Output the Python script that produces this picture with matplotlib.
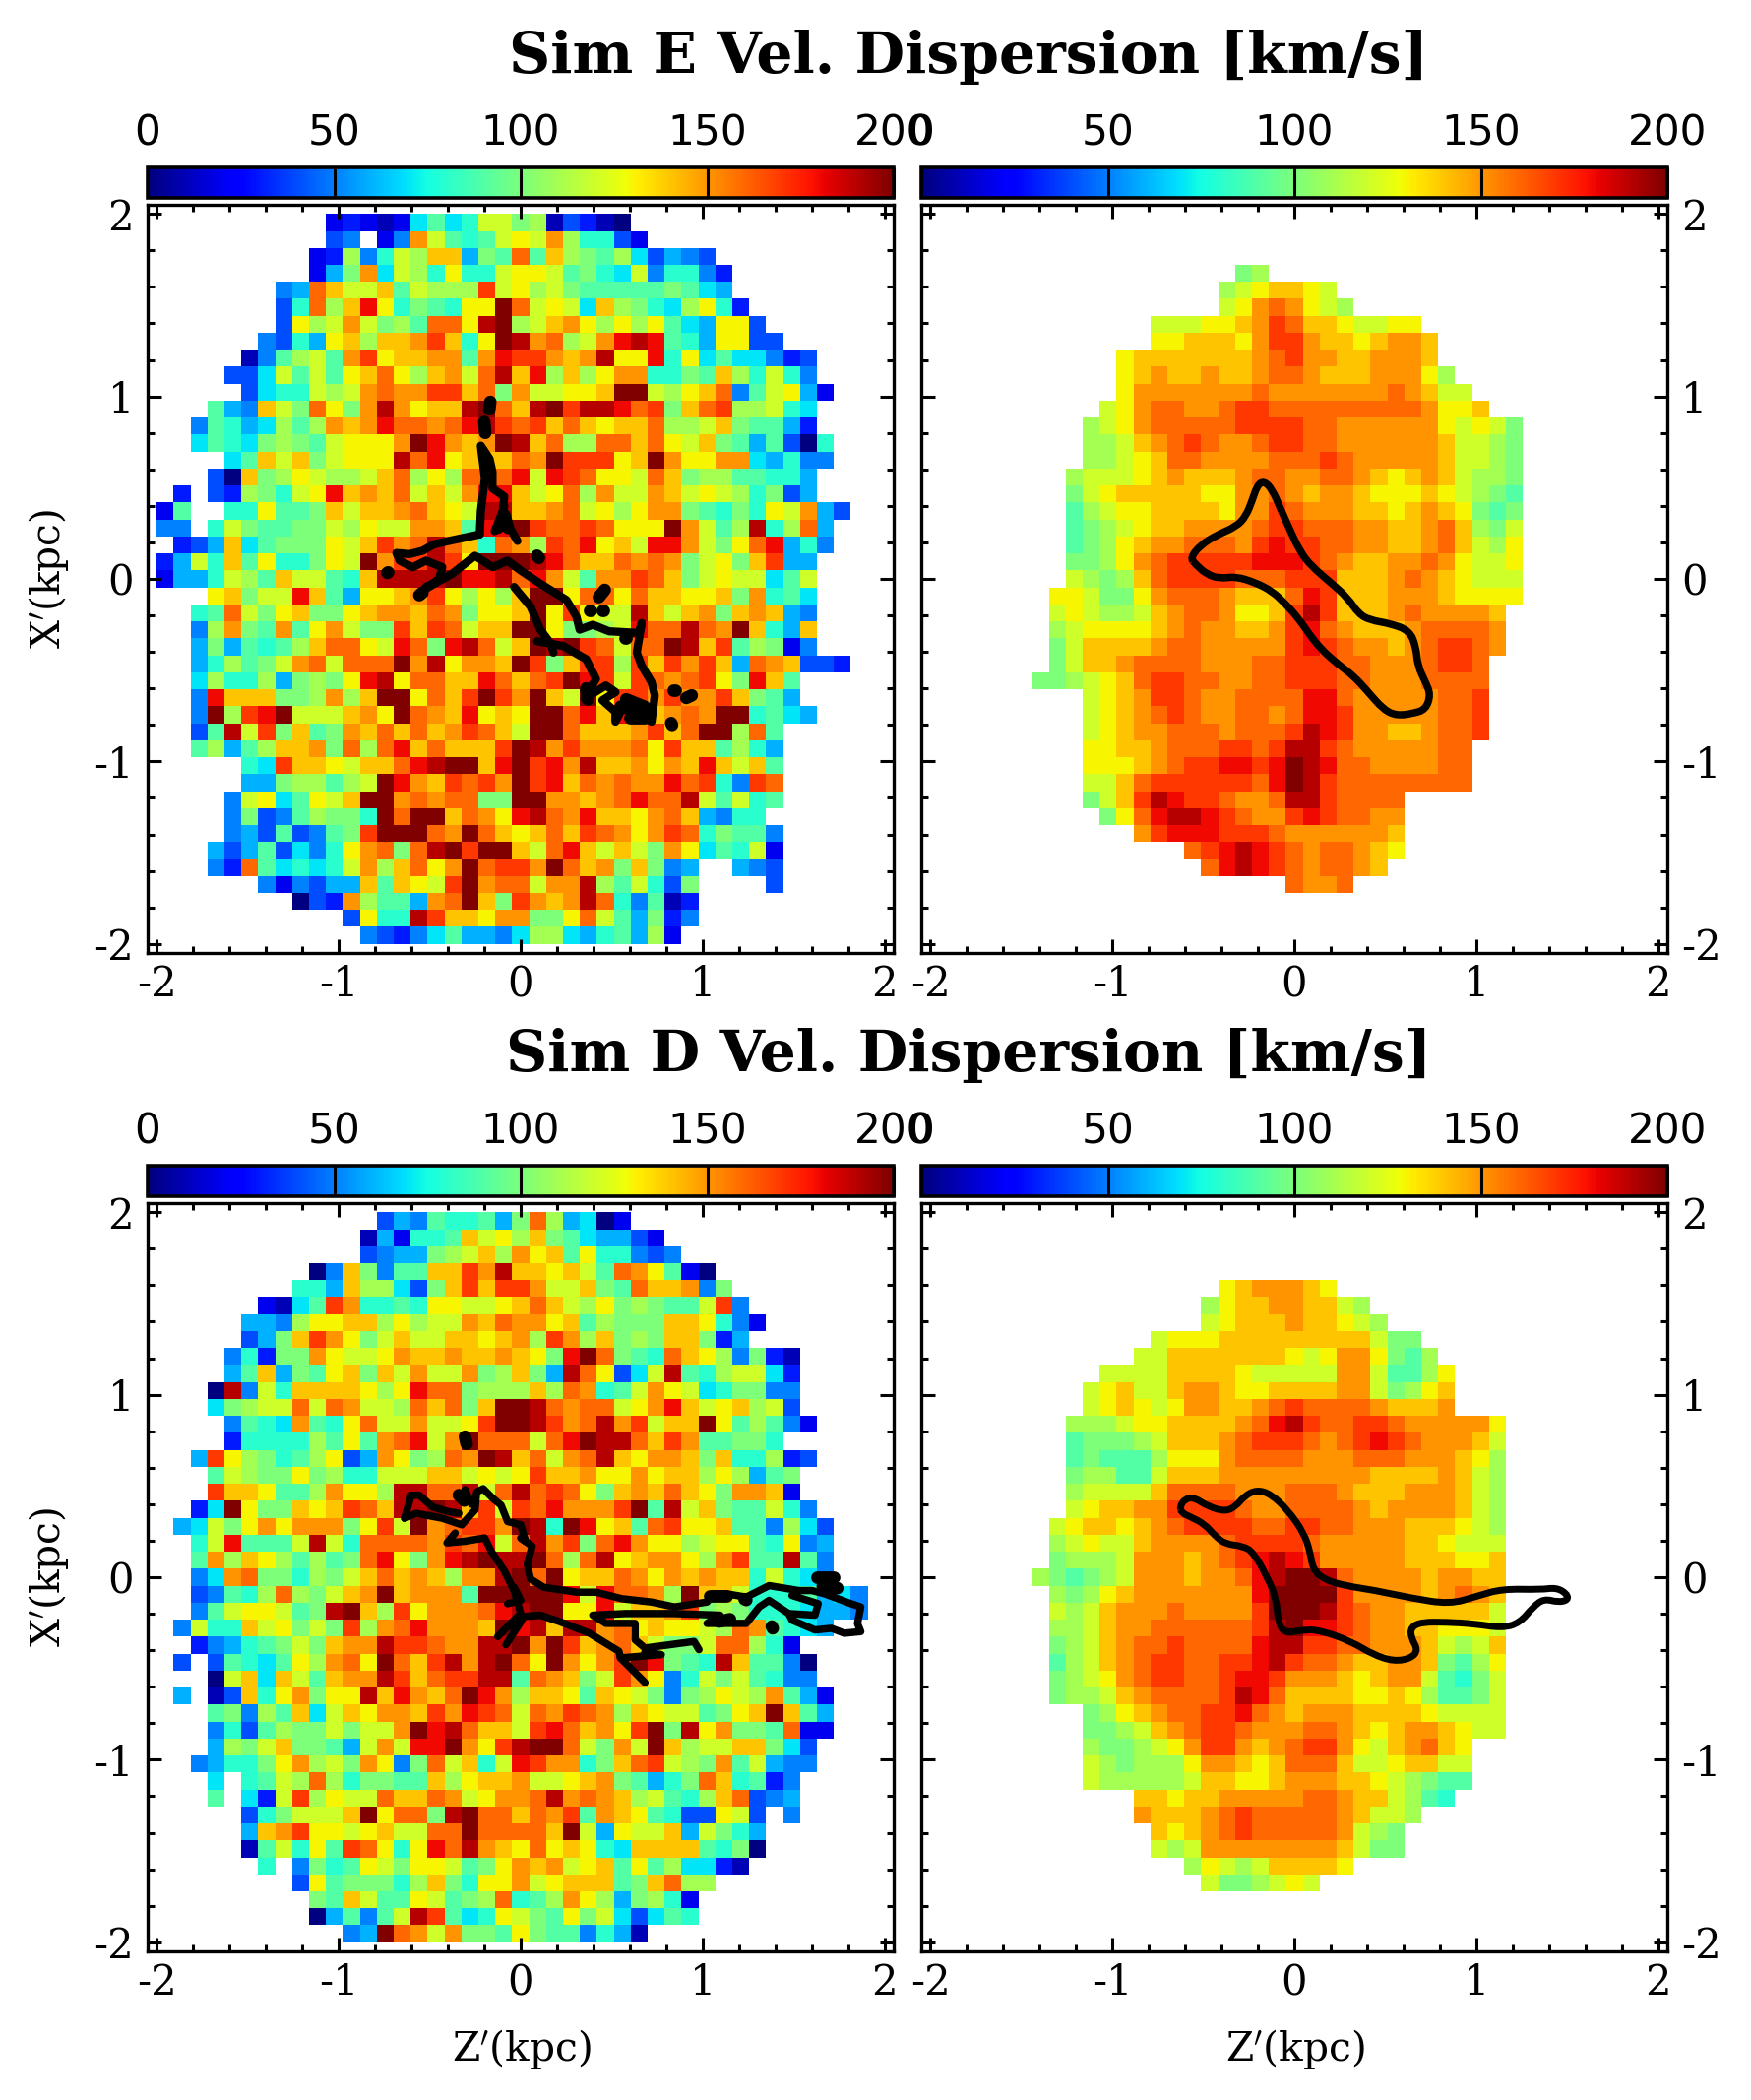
"""Velocity dispersion maps of Sim E and Sim D with the gas outlines on top."""

import numpy as np
import matplotlib
matplotlib.use("Agg")
import matplotlib.pyplot as plt
from matplotlib.patches import PathPatch
from matplotlib.path import Path
from matplotlib.ticker import MultipleLocator, FormatStrFormatter

plt.rcParams.update({
    "font.family": "DejaVu Serif",
    "mathtext.fontset": "dejavuserif",
    "axes.unicode_minus": False,
})

W, H = 1779, 2133
DPI = 200

# one character per bin: base-21 level, level * 10 = km/s, '.' = no data
E_LEFT = [
    "..........232127978ccab14310",
    "..........45.25fc989cdcfb8842",
    ".........23b58cbee6a9g9eba9b74654",
    ".........26af7cb8d88cddc9a87c58853",
    ".......56gecce9cbbbhcdbca99999a976",
    ".......48gbeid8a98ddkgcdc7eba87bd83",
    ".......4dbcfcab9ggdjkbcefdbdbd976dd4",
    "......5486debeefhe8dkjfgbcfiji986dd44",
    ".....159bc9fhdeeff9fihhfefjddi8d7977534",
    "....447c9c9degdbefcgjeibebdff88a9eb8c85",
    ".....4788cbcfgffhhegafccddekkcbdeg59cd62",
    "...965ecagdafjfdeejkgejkhjjighaeghbbc87",
    "..59867b9bfefiggfgijhghegedeegbbcea9963",
    "..7987aba9cdddfkifefkjegbbggegdcea969408",
    "....79eceacdddjgideeegfkhhhdekfddff76855",
    "...40eabdcbbcegbdbgggicihgddcgeabb99886",
    ".3.43ba8cdiefegcecfiiecdgbfccfecdcb8a46",
    "29..88d99aeceefgedcjjeefgcdbdffa98a8dcf64",
    "55.8ca99aacbdccffe9iikhgghgdddkfc9bj8bg6",
    ".346e79aaadcehfgjge8gfbhgideciifcadgi685",
    "36c8e9d88adckfhhjhdkkkjigeegfgfacdaeh66",
    "2668cb9ecc98ejjjjkiijgifc9ffhgeacdcc79c",
    "...deaccie96ddefhdbdbekkdggdgeeddeaf897",
    "..89gcadeaadeffegfaddekdhdccjecefaefe65",
    "..5bfa9f9dfcaahehgceekkdaabciggjgfke86e",
    "..6a6989beggdcigaijgcekjkhgcggkjeh9ba25",
    "..68b9acfgcgggkfjdffekhaehhbhehfhe6gfe443",
    "..7b88b6abadijdggeeigeghkihchgfghdaie9",
    "..5ieeeaabfbekkdgehkhfkeckdhhfhffhea96",
    "..5kbhikcccefdkgfeidedkkgieiiefgfkk8976",
    "..49jchae9afegegefhgeckkgeeefhegkkbg9",
    "..9b69beefagbgiegeeehkjfhfffgdhee9b86",
    ".....87heedceegijkkeikhifjeefdfeiece9",
    ".....66abb9bckifehghfkhiegfgffigh85hg",
    "....5cd79dcekkfgfggaakkffefgiggjc9c89",
    "....5a459baa8kgkkegfdijgfieedfge6588",
    "....5649459ahkkkgfkgedegehgfdfhg8a995",
    "...64694758dfgagjkhkkecgiececafd798c2",
    "...53g97878cfbegdfkghhfkgefaea56..654",
    "......525466e9edchkfggcffjb9c84a....4",
    "........043fb996fgkeahfefjg85913",
    "...........4d88jheedffaadgc96a35",
    "............5435796657bb76896b2",
]

E_RIGHT = [
    "",
    "",
    "",
    "..................ab",
    ".................bcdeedc",
    ".................cdfgfdcb",
    ".............cccddefhgeedccdd",
    ".............ddeeedfhhfeedeffe",
    "...........deeeeeeefghffeefffe",
    "...........defeefeefggfeeefffdb",
    "...........dfffffffgfffffffgfecc",
    "..........cdfggffghhgggggggggfdde",
    ".........bcdfggggghhhhggffffffdcdca",
    ".........bbcefghgffghhggffffffeccba",
    ".........bbcdeggffffggghgfffffeccba",
    "........bcccdefeeefggffggfedefecbba",
    "........acdeeeeeddffgfeffedddedcba9",
    "........9bcddeeeedffhgfffeedefeda9a",
    "........9abcdeeffffghhgggffeefgebac",
    "........9abdeffgggfhihhggffeefgecbd",
    "........aabdfghhhhhiiihgfeeffgfdccd",
    "........cbabeghhhhggghhheeefgfedccc",
    ".......ddcaadfgggfeeegiheeefffedddd",
    ".......cdcbbcefggfddehjheeefgffffe",
    ".......bcddddefgffeefhigfeeefggggf",
    ".......aceeeefggfffffhihgffefghhgf",
    ".......aceefggggfffgghhhggfffghhg",
    "......aabcdeghhggffgghhhggfffgggg",
    ".........cdefhhgffggggiigfffffggh",
    ".........cdefghgffggfgiihfffffggh",
    ".........cdeffgggfggghjihffeefggh",
    ".........ddeefggghhghjjhgfffffgg",
    ".........dddefghhiihikjiggffffgg",
    ".........cceghhhhhhgikjhgggggggg",
    ".........acehjihhgffgjjhgggg",
    "..........adgijjihgffhihggff",
    "............fhiiihhhgffffffe",
    "...............ghijihgfggfed",
    "................gijihgfggfe",
    ".....................gffg",
]

D_LEFT = [
    ".............46598896agb6702",
    "............162889ecdbea976642",
    "............4566abcebfde9d88545",
    ".........05ea599eehfjeedec9gfd920",
    "........886ebb74aehehhfccea9geef5a",
    "......2179hf8898ddccdegecbdaba99ch5",
    ".....665bddeebdbccfegffde9baaaeed852",
    ".....46aehfdacecceedefbhfbeabaeea36",
    "....583aafdccdfeefeefedaikga98gedb5a31",
    "....69e6a9deaecfccfabea6jgd47cj98bcc73",
    "...0j5c8eeeedbdiggabbbebgf89cfdc78aa55",
    "...7abccgcgfccbgegaekkjgfggcdfiecdebc4",
    "....5987f98dgccfccdhkkjhfgjfhceekd9b952",
    "....38888b9d9fgicfkgggcgikjjgehf99aa8",
    "..6hdba89bd46fdabgfkjegcfgjedffeae88b34",
    "...9cbaadab88ccceecdcdheefddfdeebdb69a",
    "...heed99bfddbjjggjcgjghgdaefegedaffe2",
    "..37kdaaedehgejjkjehchgifffhk9jcea99c85",
    ".67cadfdfffadhckfghhfkj8kide9ghdde995b74",
    "..8ci999cjc8ggggfhgicgjfhagifddbcdd98d56",
    "..9fbedb9b9agidafijkjjkgbgjdeffdbfh99j95",
    "..57fgaa8bacegefebffjkgkdeegfdfefee8c875",
    "..4598bgbacefkefff9kkkkkiciggfbkeec8889675",
    "..59cddc9ajkebhdfffgijkkddiceefhaba8887665",
    ".5c88ecdacahbfgifffekijejjfgdeddcbgf9876",
    "..35689acaeffjhhgffjjkfkhefgecaacggb82",
    ".4.49879dbfgdkgehjfjkgdkfdfhkia98je9950",
    "...0ce7ec9effjheghhjj9gfeachfd58cac9855",
    ".6.14e8dfaddjeifegkifbeed9edca5abdcbf962",
    "...9a5b9e7cedffehfihgcgfhgfbedcc9adeke96",
    "...5849baacaccfkijgeechigefdhkajdfaa9g22",
    "...6baceaa96cfciikfdhjkkgcafckebcceea74",
    "..5688adfbcafd5agce8cihff8aeghcbaf9c655",
    "...7.89cbgb8aa99ebdeefccdefa968age8935",
    "...9.73chbdccgeegfcdffgjfgfebc98beg456",
    ".....48acccekdggajkggegfh9fed9844dc4.5",
    ".....6efhddcdeccggkggggekc6dcce6ca86",
    ".....19c8d9hgd8digjfedgded87eeee98a0",
    "......8.5a89dcaddc9adfefcde9d9b7731",
    "........4d9aaa8bea8ddfcdeee9aegbb",
    ".........a9ec99dc9abg89bfdb6ab82",
    ".........06959cjh978dca9dac74798",
    "...........56kgfcfaa9da995861",
]

D_RIGHT = [
    "",
    "",
    "",
    "",
    ".................defffed",
    "................bdeeffeecb",
    "................cdeeefeedcb",
    ".............cdddeeeeeeeeecaa",
    "............cceeeeeeedcdffda9b",
    "..........cccceeeedcccccffc99bd",
    ".........cdecceffeddeeeeffcabde",
    ".........cdedcdffeefghggggfeeef",
    "........bbbcddeeeefgijhgghhgfffffd",
    "........9aaabceeefghhhgfghihgfffec",
    "........9a999bdddfggggfffgggfffedb",
    "........abb99ceeefffffffffeeeefecb",
    "........bccccegggg" "fffgggfeee" "fffecb",
    "........cdeeffhhhhgffggggfeffffecb",
    ".......cdeedefghhhhgghhggfffeeedcb",
    ".......bcdcceffffghhhhgfffffeedccc",
    ".......abbbcfffefghijihfffffeeedde",
    "......ba9abcfffeffgijkkjgffffeffee",
    ".......babdefffffffikkkkhffffefgfe",
    ".......cbcefffgffffhkkkjhgffeeeeec",
    ".......bbceffgggggghjkiihgffeedddc",
    ".......abcefgghggggijjhhggfffecbce",
    ".......9bcefghhgghhijhggfeeffea9bd",
    ".......abcdfghhgghiihfffedeffc98ac",
    ".......abbcefgggghjigeeeeddedb99ac",
    ".........abdefgghhigfefffeeeedcccc",
    ".........aabcefghhgfffggfedeffedcc",
    ".........baabcdfhhfefghhfdcefged",
    ".........cbabbbdffedegggeccdeecc",
    ".........cbbbbbceeddefffeedcba99",
    "............eedeefffffggfeecb98",
    "............feeefghgggggfeccb",
    ".............edefghgggggfcba",
    ".............cbcffffffffecaa",
    "...............bdcbceeeed",
    "................caabcdc",
]

# outlines in kpc, (x, y) pairs
E_RIGHT_LINE = [
    (-.571, .115), (-.517, .184), (-.427, .240), (-.320, .286), (-.266, .343), (-.230, .434),
    (-.203, .513), (-.167, .536), (-.122, .491), (-.077, .388), (-.032, .286), (.031, .150),
    (.094, .070), (.201, -.021), (.291, -.101), (.354, -.192), (.417, -.226), (.525, -.244),
    (.633, -.283), (.669, -.374), (.678, -.476), (.722, -.567), (.749, -.635), (.722, -.715),
    (.650, -.738), (.561, -.749), (.489, -.715), (.399, -.612), (.327, -.533), (.237, -.465),
    (.147, -.385), (.084, -.305), (.021, -.214), (-.050, -.135), (-.122, -.067), (-.212, -.021),
    (-.320, .013), (-.410, .002), (-.481, .025), (-.544, .081),
]

D_RIGHT_LINE = [
    (-.629, .388), (-.600, .429), (-.552, .438), (-.475, .388), (-.379, .360), (-.322, .388),
    (-.274, .445), (-.207, .479), (-.129, .456), (-.033, .365), (.054, .240), (.087, .137),
    (.102, .046), (.160, -.011), (.275, -.046), (.449, -.073), (.641, -.114), (.853, -.148),
    (1.007, -.103), (1.142, -.064), (1.354, -.068), (1.440, -.057), (1.498, -.091), (1.504, -.125),
    (1.450, -.137), (1.373, -.118), (1.315, -.160), (1.238, -.251), (1.142, -.278), (.988, -.255),
    (.834, -.246), (.700, -.246), (.641, -.274), (.641, -.330), (.680, -.399), (.641, -.445),
    (.545, -.461), (.429, -.422), (.314, -.353), (.160, -.296), (.064, -.285), (-.052, -.308),
    (-.087, -.251), (-.100, -.114), (-.148, 0), (-.225, .137), (-.283, .171), (-.379, .182),
    (-.437, .228), (-.494, .292), (-.571, .331), (-.620, .353),
]

E_LEFT_LINES = [
    [(-.225, .244), (-.219, .37), (-.197, .55), (-.219, .73), (-.171, .658), (-.155, .586),
     (-.155, .496), (-.09, .451), (-.099, .37), (-.143, .262), (-.072, .30), (-.018, .208)],
    [(-.09, .40), (-.12, .27)],
    [(-.225, .244), (-.395, .208), (-.476, .19), (-.539, .154), (-.611, .136), (-.683, .142),
     (-.665, .10), (-.593, .064), (-.521, .10), (-.431, .064), (-.449, 0), (-.521, -.053)],
    [(-.521, -.053), (-.377, .028), (-.251, .127), (-.153, .064), (-.072, .10), (0, .046),
     (.108, -.026), (.252, -.116), (.306, -.206), (.324, -.278), (.396, -.251), (.486, -.287),
     (.648, -.296), (.665, -.242), (.638, -.404), (.665, -.476), (.719, -.566), (.737, -.638),
     (.719, -.782), (.566, -.692), (.521, -.782), (.521, -.728), (.449, -.665), (.521, -.62),
     (.468, -.584), (.351, -.656), (.414, -.548), (.36, -.44), (.234, -.368), (.09, -.341)],
    [(-.036, -.044), (.054, -.152), (.108, -.278), (.162, -.35), (.18, -.404)],
    [(-.521, -.044), (-.449, -.008)],
]

E_LEFT_BLOBS = [
    [(-.167, .97), (-.172, .93)],
    [(-.20, .86), (-.195, .80)],
    [(-.07, .28), (-.09, .35)],
    [(-.733, .033), (-.728, .036)],
    [(-.557, -.089), (-.54, -.075)],
    [(.09, .127), (.10, .115)],
    [(.43, -.10), (.462, -.06)],
    [(.377, -.17), (.382, -.17)],
    [(.449, -.17), (.454, -.17)],
    [(.566, -.233), (.57, -.233)],
    [(.575, -.321), (.58, -.321)],
    [(.55, -.70), (.70, -.74)],
    [(.60, -.76), (.68, -.76)],
    [(.58, -.66), (.68, -.70)],
    [(.36, -.60), (.37, -.66)],
    [(.84, -.611), (.85, -.611)],
    [(.91, -.652), (.94, -.638)],
    [(.827, -.79), (.832, -.80)],
]

D_LEFT_LINES = [
    [(-.638, .323), (-.602, .449), (-.557, .449), (-.485, .386), (-.40, .36), (-.34, .35)],
    [(-.638, .323), (-.575, .35), (-.431, .323), (-.324, .287), (-.251, .368), (-.242, .467),
     (-.206, .485), (-.152, .431), (-.108, .395), (-.072, .305), (0, .287), (.027, .197),
     (0, .215), (.063, .17), (.036, .071), (.054, -.01), (.126, -.055), (.306, -.082),
     (.414, -.082), (.557, -.118), (.719, -.136), (.845, -.163), (1.024, -.136), (1.06, -.091),
     (1.132, -.091), (1.24, -.109), (1.365, -.046), (1.527, -.073), (1.6, -.073), (1.671, -.091),
     (1.815, -.145), (1.869, -.163), (1.851, -.253), (1.869, -.298), (1.779, -.307), (1.707, -.28),
     (1.617, -.289), (1.491, -.235), (1.473, -.199), (1.617, -.208), (1.635, -.145), (1.491, -.10)],
    [(-.306, .48), (-.27, .40)],
    [(1.473, -.199), (1.365, -.127), (1.311, -.163), (1.24, -.253), (1.024, -.253), (1.096, -.208),
     (.845, -.199), (.575, -.199), (.396, -.208), (.468, -.253), (.629, -.253), (.629, -.343),
     (.683, -.388), (.953, -.352), (.98, -.397)],
    [(.683, -.41), (.773, -.424), (.548, -.442), (.683, -.577)],
    [(-.054, -.271), (0, -.217), (.108, -.208), (.216, -.244), (.378, -.307), (.54, -.406),
     (.548, -.442)],
    [(-.36, .242), (-.405, .188), (-.306, .197), (-.198, .215), (-.162, .143), (-.09, .035),
     (-.036, -.073), (0, -.199), (-.054, -.253), (-.126, -.325)],
    [(-.072, -.145), (0, -.127), (-.036, -.055)],
    [(.007, -.235), (-.081, -.37)],
]

D_LEFT_BLOBS = [
    [(-.306, .77), (-.297, .73)],
    [(1.09, -.243), (1.15, -.23)],
    [(1.04, -.10), (1.13, -.10)],
    [(1.63, .0), (1.72, .0)],
    [(1.66, -.05), (1.74, -.06)],
    [(1.23, -.12), (1.24, -.125)],
    [(1.38, -.27), (1.385, -.28)],
    [(-.34, .45), (-.31, .42)],
]

CBAR_TICKS = [0, 50, 100, 150, 200]
AXIS_TICKS = [-2, -1, 0, 1, 2]


def decode(rows):
    vals = np.full((43, 43), np.nan)
    for i, row in enumerate(rows):
        for j, ch in enumerate(row):
            if ch != ".":
                vals[i, j] = int(ch, 21) * 10
    return np.ma.masked_invalid(vals)


def px_axes(fig, x0, y0, x1, y1):
    """Axes from pixel corners, y counted from the top of the figure."""
    return fig.add_axes([x0 / W, 1 - y1 / H, (x1 - x0) / W, (y1 - y0) / H])


def closed_curve(points):
    """Smooth closed path: each read point is a control point of a quadratic piece."""
    pts = np.array(points)
    mids = (pts + np.roll(pts, -1, axis=0)) / 2
    verts, codes = [mids[-1]], [Path.MOVETO]
    for p, m in zip(pts, mids):
        verts += [p, m]
        codes += [Path.CURVE3, Path.CURVE3]
    return Path(verts, codes)


def draw_map(fig, x0, y0, rows, right_labels):
    ax = px_axes(fig, x0, y0, x0 + 758, y0 + 760)
    edges = np.linspace(-2, 2, 44)
    mesh = ax.pcolormesh(edges, edges[::-1], decode(rows), cmap="jet", vmin=0, vmax=200,
                         shading="flat", rasterized=True)
    ax.set_xlim(-2.05, 2.05)
    ax.set_ylim(-2.05, 2.05)
    ax.set_xticks(AXIS_TICKS)
    ax.set_yticks(AXIS_TICKS)
    ax.xaxis.set_minor_locator(MultipleLocator(0.2))
    ax.yaxis.set_minor_locator(MultipleLocator(0.2))
    ax.xaxis.set_major_formatter(FormatStrFormatter("%d"))
    ax.yaxis.set_major_formatter(FormatStrFormatter("%d"))
    ax.tick_params(which="major", direction="in", length=5, width=1.1, top=True, right=True,
                   labelsize=15, pad=5, labelleft=not right_labels, labelright=right_labels)
    ax.tick_params(axis="x", which="major", pad=4)
    ax.tick_params(which="minor", direction="in", length=2.6, width=1.1, top=True, right=True)
    for sp in ax.spines.values():
        sp.set_linewidth(1.2)

    # colour bar sits just above the map
    cax = px_axes(fig, x0, y0 - 38, x0 + 758, y0 - 7)
    cb = fig.colorbar(mesh, cax=cax, orientation="horizontal", ticks=CBAR_TICKS)
    cax.xaxis.set_ticks_position("top")
    cax.tick_params(direction="in", length=11.2, width=1.1, labelsize=15.2, pad=5,
                    labelfontfamily="DejaVu Sans")
    cb.outline.set_linewidth(1.3)
    return ax


def draw_strokes(ax, lines, lw):
    for line in lines:
        xy = np.array(line)
        ax.plot(xy[:, 0], xy[:, 1], color="k", lw=lw, solid_capstyle="round",
                solid_joinstyle="round")


def draw_outline(ax, points, lw):
    ax.add_patch(PathPatch(closed_curve(points), fill=False, edgecolor="k", lw=lw))


fig = plt.figure(figsize=(W / DPI, H / DPI), dpi=DPI)

LEFT_X, RIGHT_X = 150, 936
TOP_Y, LOW_Y = 208, 1222

ax = draw_map(fig, LEFT_X, TOP_Y, E_LEFT, False)
draw_strokes(ax, E_LEFT_LINES, 3.0)
draw_strokes(ax, E_LEFT_BLOBS, 4.6)
ax = draw_map(fig, RIGHT_X, TOP_Y, E_RIGHT, True)
draw_outline(ax, E_RIGHT_LINE, 2.7)
ax = draw_map(fig, LEFT_X, LOW_Y, D_LEFT, False)
draw_strokes(ax, D_LEFT_LINES, 2.7)
draw_strokes(ax, D_LEFT_BLOBS, 4.6)
ax = draw_map(fig, RIGHT_X, LOW_Y, D_RIGHT, True)
draw_outline(ax, D_RIGHT_LINE, 2.5)

fig.text(984 / W, 1 - 58 / H, "Sim E Vel. Dispersion [km/s]", ha="center", va="center",
         fontsize=21, fontweight="bold")
fig.text(984 / W, 1 - 1072 / H, "Sim D Vel. Dispersion [km/s]", ha="center", va="center",
         fontsize=21, fontweight="bold")
for y in (588, 1602):
    fig.text(50 / W, 1 - y / H, "X$^{\\prime}$(kpc)", rotation=90, ha="center", va="center",
             fontsize=14.7)
for x in (530, 1316):
    fig.text(x / W, 1 - 2082 / H, "Z$^{\\prime}$(kpc)", ha="center", va="center", fontsize=14.7)

fig.savefig("out.png", dpi=DPI)
